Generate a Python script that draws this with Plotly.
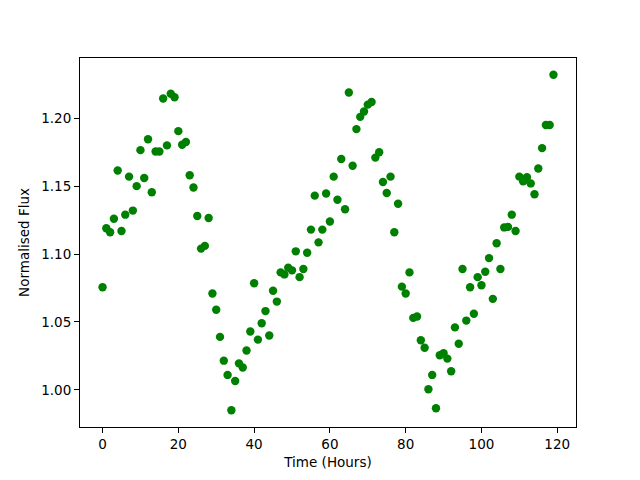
import plotly.graph_objects as go

hours = list(range(120))
flux = [
    1.0755, 1.119, 1.116, 1.126, 1.1615, 1.117, 1.129, 1.157, 1.132, 1.150,
    1.1765, 1.156, 1.1845, 1.1455, 1.1755, 1.1755, 1.2145, 1.180, 1.218, 1.2155,
    1.1905, 1.1805, 1.1825, 1.158, 1.149, 1.128, 1.104, 1.106, 1.1265, 1.071,
    1.059, 1.039, 1.0215, 1.011, 0.985, 1.0065, 1.0195, 1.0165, 1.029, 1.043,
    1.0785, 1.037, 1.049, 1.058, 1.040, 1.073, 1.065, 1.0865, 1.085, 1.090,
    1.088, 1.102, 1.083, 1.089, 1.101, 1.118, 1.143, 1.1086, 1.118, 1.1446,
    1.124, 1.157, 1.140, 1.170, 1.133, 1.219, 1.165, 1.192, 1.201, 1.205,
    1.210, 1.212, 1.171, 1.175, 1.153, 1.145, 1.157, 1.116, 1.137, 1.076,
    1.071, 1.0865, 1.053, 1.054, 1.0365, 1.031, 1.0005, 1.011, 0.9865, 1.0255,
    1.027, 1.023, 1.0137, 1.046, 1.034, 1.089, 1.051, 1.0755, 1.056, 1.083,
    1.077, 1.087, 1.097, 1.067, 1.108, 1.089, 1.1196, 1.120, 1.129, 1.117,
    1.157, 1.1535, 1.1566, 1.152, 1.144, 1.163, 1.178, 1.195, 1.195, 1.232,
]
x_ticks = [0, 20, 40, 60, 80, 100, 120]
y_ticks = [1.00, 1.05, 1.10, 1.15, 1.20]

def padded(vals, frac=0.05):
    lo, hi = min(vals), max(vals)
    m = (hi - lo) * frac
    return [lo - m, hi + m]

fig = go.Figure(go.Scatter(
    x=hours, y=flux, mode="markers",
    marker=dict(color="#008000", size=8.4, line=dict(width=0)),
))

axis_common = dict(
    showline=True, linecolor="black", linewidth=1.1, mirror=True,
    ticks="outside", ticklen=5, tickwidth=1.1, tickcolor="black",
    showgrid=False, zeroline=False, automargin=False,
    tickfont=dict(family="DejaVu Sans", size=13.5, color="black"),
)

# page body has an 8px default margin, so the figure is offset by 8px
fig.update_layout(
    width=632, height=472,
    margin=dict(l=72, r=64, t=50, b=53),
    paper_bgcolor="white", plot_bgcolor="white",
    showlegend=False,
    font=dict(family="DejaVu Sans", size=13.5, color="black"),
    xaxis=dict(range=padded(hours), tickvals=x_ticks,
               title=dict(text="Time (Hours)", standoff=6,
                          font=dict(family="DejaVu Sans", size=13.5)),
               **axis_common),
    yaxis=dict(range=padded(flux), tickvals=y_ticks, tickformat=".2f",
               title=dict(text="Normalised Flux", standoff=8,
                          font=dict(family="DejaVu Sans", size=13.5)),
               **axis_common),
)

fig.write_html("out.html")
